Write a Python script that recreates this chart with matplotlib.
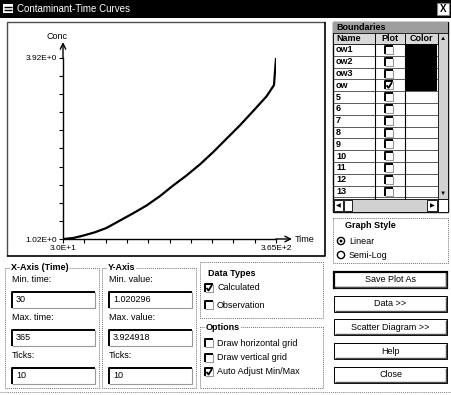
import numpy as np
import matplotlib.pyplot as plt
from matplotlib.patches import Rectangle, Circle

# curve
time = [30, 45.8, 61.5, 79.9, 98.3, 119.3, 140.3, 161.3, 182.3, 203.3, 224.3,
        245.3, 266.3, 287.3, 308.3, 329.3, 350.3, 361.8, 365]
conc = [1.02, 1.036, 1.074, 1.127, 1.197, 1.315, 1.433, 1.557, 1.707, 1.879, 2.040,
        2.217, 2.416, 2.631, 2.845, 3.076, 3.312, 3.49, 3.92]

x_min, x_max, x_ticks = 30, 365, 10
y_min, y_max, y_ticks = 1.020296, 3.924918, 10
x_tick_labels = ['3.0E+1', '3.65E+2']
y_tick_labels = ['1.02E+0', '3.92E+0']

bound_names = ['ow1', 'ow2', 'ow3', 'ow', '5', '6', '7', '8', '9', '10', '11', '12', '13']
bound_plot = [0, 0, 0, 1, 0, 0, 0, 0, 0, 0, 0, 0, 0]
bound_black = [1, 1, 1, 1, 0, 0, 0, 0, 0, 0, 0, 0, 0]

buttons = ['Save Plot As', 'Data >>', 'Scatter Diagram >>', 'Help', 'Close']

plt.rcParams['font.family'] = ['Liberation Sans', 'DejaVu Sans']
FS = 6.5

W, H = 451, 395
fig = plt.figure(figsize=(W / 100, H / 100), dpi=100)
fig.patch.set_facecolor('white')
bg = fig.add_axes([0, 0, 1, 1])
bg.set_xlim(0, W)
bg.set_ylim(H, 0)
bg.axis('off')


def rect(x0, y0, x1, y1, fc='none', ec='k', lw=0.8, ls='-', z=1):
    bg.add_patch(Rectangle((x0, y0), x1 - x0, y1 - y0, facecolor=fc,
                           edgecolor=ec, lw=lw, ls=ls, zorder=z))


def line(xs, ys, c='k', lw=0.8, ls='-', z=2):
    bg.plot(xs, ys, color=c, lw=lw, ls=ls, zorder=z, solid_capstyle='butt')


def txt(x, y, s, bold=False, ha='left', c='k', size=FS, bgc=None):
    t = bg.text(x, y, s, fontsize=size, ha=ha, va='center', color=c,
                fontweight='bold' if bold else 'normal', zorder=5)
    if bgc:
        t.set_bbox(dict(facecolor=bgc, edgecolor='none', pad=0.5))


def sunken(x0, y0, x1, y1):
    rect(x0, y0, x1, y1, fc='white', ec='none')
    line([x0, x0, x1], [y1, y0, y0], c='k', lw=1.4)
    line([x0, x1, x1], [y1, y1, y0], c='0.6', lw=0.8)


def checkbox(x, y, checked):
    sunken(x, y - 4, x + 8, y + 4)
    if checked:
        line([x + 1.5, x + 3.5, x + 7], [y, y + 2.5, y - 3], lw=1.3, z=3)


def group(x0, y0, x1, y1, title=None):
    rect(x0, y0, x1, y1, ec='0.45', lw=0.7, ls=(0, (1, 1)))
    if title:
        txt(x0 + 6, y0, title, bold=True, bgc='white')


# title bar
rect(0, 0, W, 18, fc='black', ec='none')
rect(3, 4, 13, 13, fc='white', ec='none', z=2)
line([4, 12], [7, 7], lw=1, z=3)
line([4, 12], [10, 10], lw=1, z=3)
txt(17, 9, 'Contaminant-Time Curves', c='white', size=7)
rect(437, 3, 449, 15, fc='white', ec='0.5', z=2)
txt(443, 9, 'X', bold=True, ha='center', size=7)

# plot panel
rect(7, 22, 325, 256, fc='white', ec='none')
line([7, 7, 325], [256, 22, 22], c='0.3', lw=1)
line([7, 325, 325], [256, 256, 22], c='k', lw=1.2)

# boundaries grid
gx0, gx1 = 333, 448
rect(gx0, 22, gx1, 212, fc='white', ec='k', lw=1)
rect(gx0, 22, gx1, 33, fc='0.62', ec='none', z=2)
txt(gx0 + 3, 27.5, 'Boundaries', bold=True)
rect(gx0, 33, 375, 44, fc='0.85', ec='k', lw=0.6)
rect(375, 33, 405, 44, fc='0.85', ec='k', lw=0.6)
rect(405, 33, 438, 44, fc='0.85', ec='k', lw=0.6)
txt(gx0 + 3, 38.5, 'Name', bold=True)
txt(390, 38.5, 'Plot', bold=True, ha='center')
txt(421, 38.5, 'Color', bold=True, ha='center')
# vertical scrollbar
rect(438, 33, gx1, 199, fc='0.82', ec='k', lw=0.6)
txt(443, 38.5, '\u25b2', ha='center', size=4.5)
txt(443, 193, '\u25bc', ha='center', size=4.5)
row_h = 11.8
for i, name in enumerate(bound_names):
    y0 = 44 + i * row_h
    yc = y0 + row_h / 2
    if bound_black[i]:
        rect(406, y0, 437, y0 + row_h, fc='black', ec='none', z=2)
    line([gx0, 438], [y0 + row_h, y0 + row_h], c='0.25', lw=0.6)
    txt(gx0 + 3, yc, name, bold=True)
    checkbox(385, yc, bound_plot[i])
line([375, 375], [44, 199], lw=0.8)
line([405, 405], [44, 199], lw=0.8)
# horizontal scrollbar
rect(gx0, 199, 438, 212, fc='0.82', ec='k', lw=0.6)
rect(gx0 + 1, 200, gx0 + 10, 211, fc='white', ec='k', lw=0.6, z=2)
txt(gx0 + 5.5, 205.5, '\u25c0', ha='center', size=4.5)
rect(gx0 + 11, 200, gx0 + 19, 211, fc='white', ec='k', lw=0.6, z=2)
rect(427, 200, 437, 211, fc='white', ec='k', lw=0.6, z=2)
txt(432, 205.5, '\u25b6', ha='center', size=4.5)
rect(438, 199, gx1, 212, fc='white', ec='k', lw=0.6, z=2)

# graph style
group(333, 218, 448, 263)
txt(345, 225, 'Graph Style', bold=True)
for yc, label, sel in [(241, 'Linear', True), (255, 'Semi-Log', False)]:
    bg.add_patch(Circle((341, yc), 3.6, facecolor='white', edgecolor='k', lw=1, zorder=3))
    if sel:
        bg.add_patch(Circle((341, yc), 1.4, facecolor='k', edgecolor='none', zorder=4))
    txt(349, yc, label)

# buttons
for i, label in enumerate(buttons):
    yc = 280 + i * 23.7
    rect(334, yc - 8, 447, yc + 8, fc='white', ec='k', lw=1.6 if i == 0 else 0.7)
    line([335, 446, 446], [yc + 7, yc + 7, yc - 7], c='0.3', lw=1)
    txt(390.5, yc, label, ha='center')

# axis groups
for gx, title, fields in [
        (5, 'X-Axis (Time)', [('Min. time:', '30'), ('Max. time:', '365'), ('Ticks:', '10')]),
        (102, 'Y-Axis', [('Min. value:', '1.020296'), ('Max. value:', '3.924918'), ('Ticks:', '10')])]:
    group(gx, 268, gx + 94, 388, title)
    for j, (lab, val) in enumerate(fields):
        ly = 279 + j * 38
        txt(gx + 7, ly, lab)
        sunken(gx + 7, ly + 13, gx + 90, ly + 29)
        txt(gx + 11, ly + 21, val)

# data types / options
group(200, 262, 323, 318)
rect(203, 268, 262, 281, fc='white', ec='none', z=3)
txt(208, 274, 'Data Types', bold=True)
checkbox(205, 288, True)
txt(217, 288, 'Calculated')
checkbox(205, 305, False)
txt(217, 305, 'Observation')
group(200, 327, 323, 388, 'Options')
for yc, label, chk in [(343, 'Draw horizontal grid', False),
                       (358, 'Draw vertical grid', False),
                       (372, 'Auto Adjust Min/Max', True)]:
    checkbox(205, yc, chk)
    txt(217, yc, label)

line([0, W], [392, 392], c='0.5', lw=0.7, ls=(0, (1, 1)))

# the chart itself
ax = fig.add_axes([63 / W, 1 - 239 / H, (276 - 63) / W, (239 - 58) / H])
ax.patch.set_alpha(0)
ax.plot(time, conc, color='black', lw=1.6)
ax.set_xlim(x_min, x_max)
ax.set_ylim(y_min, y_max)
for s in ['top', 'right']:
    ax.spines[s].set_visible(False)
for s in ['left', 'bottom']:
    ax.spines[s].set_linewidth(1)
xt = np.linspace(x_min, x_max, x_ticks + 1)
yt = np.linspace(y_min, y_max, y_ticks + 1)
ax.set_xticks(xt)
ax.set_xticklabels([x_tick_labels[0]] + [''] * (x_ticks - 1) + [x_tick_labels[1]])
ax.set_yticks(yt)
ax.set_yticklabels([y_tick_labels[0]] + [''] * (y_ticks - 1) + [y_tick_labels[1]])
ax.tick_params(direction='out', length=3, width=0.8, labelsize=6, pad=1.5)
ax.annotate('', xy=(1.075, 0), xytext=(1, 0), xycoords='axes fraction',
            arrowprops=dict(arrowstyle='->', lw=1, shrinkA=0, shrinkB=0), annotation_clip=False)
ax.annotate('', xy=(0, 1.088), xytext=(0, 1), xycoords='axes fraction',
            arrowprops=dict(arrowstyle='->', lw=1, shrinkA=0, shrinkB=0), annotation_clip=False)
ax.text(1.09, 0, 'Time', transform=ax.transAxes, fontsize=6.5, va='center')
ax.text(-0.03, 1.12, 'Conc', transform=ax.transAxes, fontsize=6.5, ha='center', va='center')

fig.savefig('out.png', dpi=100)
